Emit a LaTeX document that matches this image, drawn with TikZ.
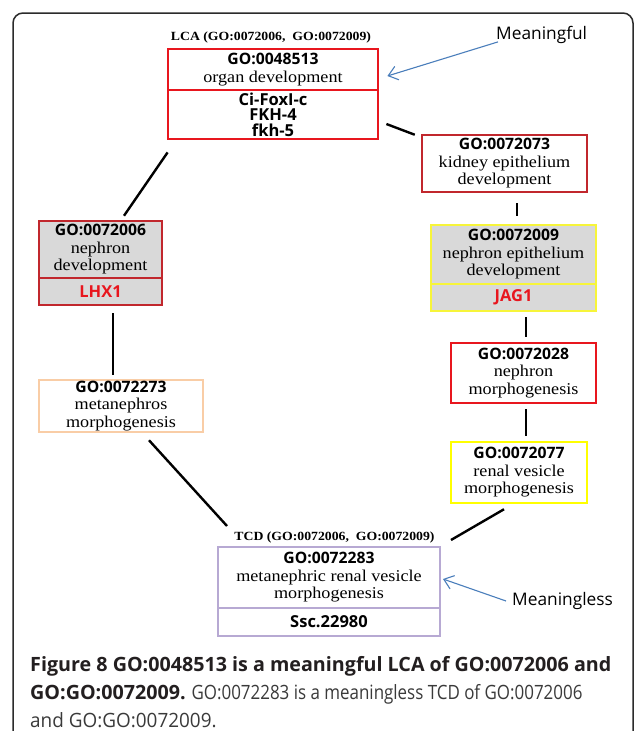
\documentclass[tikz,border=0pt]{standalone}
\usepackage{fontspec}
\setmainfont{Liberation Serif}
\newfontfamily\serifw[FakeStretch=1.1]{Liberation Serif}
\newfontfamily\sansb{Open Sans}
\newfontfamily\capfont{Open Sans}
\newfontfamily\capnarrow[FakeStretch=0.86]{Open Sans}
\newfontfamily\capslim[FakeStretch=0.96]{Open Sans}
\usetikzlibrary{calc,arrows.meta}

\definecolor{redA}{HTML}{E8161E}
\definecolor{redB}{HTML}{C1272D}
\definecolor{yelA}{HTML}{F7F53A}
\definecolor{yelB}{HTML}{FFFF00}
\definecolor{peach}{HTML}{F9CDA6}
\definecolor{lav}{HTML}{B7A9D3}
\definecolor{boxgray}{HTML}{D9D9D9}
\definecolor{arrowblue}{HTML}{4A7EBB}
\definecolor{framegray}{HTML}{2B2B2B}
\definecolor{captxt}{HTML}{231F20}
\definecolor{capreg}{HTML}{3A3A3A}

\newcommand\goid[1]{{\sansb\bfseries\fontsize{15.7}{17}\selectfont #1}}
\newcommand\godesc[1]{{\serifw\fontsize{16.5}{17}\selectfont #1}}
\newcommand\gene[1]{{\sansb\bfseries\fontsize{16.5}{15.5}\selectfont #1}}

\tikzset{
  gobox/.style={draw, line width=2.5pt, inner sep=0pt, align=center, anchor=center,
    font=\fontsize{16}{17.5}\selectfont},
  genebox/.style={gobox, font=\fontsize{16.5}{15.5}\selectfont},
  conn/.style={line width=2.4pt, black},
  note/.style={text=black, font=\sansb\fontsize{17.3}{19}\selectfont, inner sep=0pt},
  pointer/.style={draw=arrowblue, line width=1.1pt, -{Straight Barb[length=9pt,width=14pt,line width=1.1pt]}},
  toplabel/.style={font=\bfseries\serifw\fontsize{12.5}{13}\selectfont, inner sep=0pt},
}

\begin{document}
\begin{tikzpicture}[x=1pt,y=-1pt]
\useasboundingbox (0,0) rectangle (637,731);
\clip (0,0) rectangle (637,731);
\fill[white] (0,0) rectangle (637,731);

% figure frame, open at the bottom of the page
\draw[framegray, line width=1.5pt, rounded corners=10pt] (13,13) rectangle (633,780);

% LCA term
\node[toplabel] (lcalbl) at (271,37) {LCA (GO:0072006,\ \ GO:0072009)};
\node[gobox, draw=redA, line width=2.8pt, minimum width=210, minimum height=41] (lcaT) at (273,69.5)
  {\goid{GO:0048513}\\\godesc{organ development}};
\node[genebox, draw=redA, line width=2.8pt, minimum width=210, minimum height=49] (lcaB) at (273,114.5)
  {\gene{Ci-FoxI-c}\\\gene{FKH-4}\\\gene{fkh-5}};

% right branch
\node[gobox, draw=redB, minimum width=165, minimum height=57] (kid) at (504.5,163.5)
  {\goid{GO:0072073}\\\godesc{kidney epithelium}\\\godesc{development}};
\node[gobox, draw=yelA, fill=boxgray, minimum width=165, minimum height=59] (jagT) at (513.5,254.5)
  {\goid{GO:0072009}\\\godesc{nephron epithelium}\\\godesc{development}};
\node[genebox, draw=yelA, fill=boxgray, minimum width=165, minimum height=27] (jagB) at (513.5,297.5)
  {\gene{\textcolor{redA}{JAG1}}};
\node[gobox, draw=redA, minimum width=145, minimum height=60] (m28) at (523.5,373)
  {\goid{GO:0072028}\\\godesc{nephron}\\\godesc{morphogenesis}};
\node[gobox, draw=yelB, minimum width=136, minimum height=61] (rv77) at (519,472.5)
  {\goid{GO:0072077}\\\godesc{renal vesicle}\\\godesc{morphogenesis}};

% left branch
\node[gobox, draw=redB, fill=boxgray, minimum width=123, minimum height=57] (nephT) at (100.5,249.5)
  {\goid{GO:0072006}\\\godesc{nephron}\\\godesc{development}};
\node[genebox, draw=redB, fill=boxgray, minimum width=123, minimum height=27] (nephB) at (100.5,291.5)
  {\gene{\textcolor{redA}{LHX1}}};
\node[gobox, draw=peach, minimum width=164, minimum height=52] (meta) at (121,406)
  {\goid{GO:0072273}\\\godesc{metanephros}\\\godesc{morphogenesis}};

% TCD term
\node[toplabel] (tcdlbl) at (334.5,537.5) {TCD (GO:0072006,\ \ GO:0072009)};
\node[gobox, draw=lav, line width=2pt, minimum width=222, minimum height=61] (tcdT) at (329,577.5)
  {\goid{GO:0072283}\\\godesc{metanephric renal vesicle}\\\godesc{morphogenesis}};
\node[genebox, draw=lav, line width=2pt, minimum width=222, minimum height=28] (tcdB) at (329,622)
  {\gene{Ssc.22980}};

% connectors
\draw[conn] ($(lcaB.east)+(7,9.5)$) -- ($(kid.north west)+(-6,1)$);
\draw[conn] ($(lcaB.south west)+(1,12)$) -- ($(nephT.north)+(23.5,-4)$);
\draw[conn] ($(kid.south)+(12.5,10)$) -- ($(jagT.north)+(3.5,-8)$);
\draw[conn] ($(jagB.south)+(12.5,5)$) -- ($(m28.north)+(2.5,-5)$);
\draw[conn] ($(m28.south)+(2.5,5)$) -- ($(rv77.north)+(7,-5)$);
\draw[conn] ($(rv77.south)+(-15,5)$) -- ($(tcdT.north east)+(10,-6)$);
\draw[conn] ($(nephB.south)+(12.5,7)$) -- ($(meta.north)+(-8,-4)$);
\draw[conn] ($(meta.south)+(28,7)$) -- ($(tcdT.north west)+(10,-20)$);

% annotations
\node[note, anchor=west] (mful) at (496,35) {Meaningful};
\node[note, anchor=west] (mless) at (512,601) {Meaningless};
\draw[pointer] ($(mful.south west)+(2,-2)$) -- ($(lcaT.east)+(8,6.5)$);
\draw[pointer] ($(mless.west)+(-6,0)$) -- ($(tcdT.east)+(2,1.5)$);

% caption
\node[anchor=base west, inner sep=0pt, text=captxt, font=\capfont\bfseries\fontsize{19.7}{28}\selectfont] (cap1) at (30,671)
  {Figure 8 GO:0048513 is a meaningful LCA of GO:0072006 and};
\node[anchor=base west, inner sep=0pt, text=capreg, font=\capnarrow\fontsize{19.7}{28}\selectfont] (cap2) at (30,699)
  {\textcolor{captxt}{\capfont\bfseries GO:GO:0072009.} GO:0072283 is a meaningless TCD of GO:0072006};
\node[anchor=base west, inner sep=0pt, text=capreg, font=\capslim\fontsize{19.7}{28}\selectfont] (cap3) at (30,727)
  {and GO:GO:0072009.};
\end{tikzpicture}
\end{document}
